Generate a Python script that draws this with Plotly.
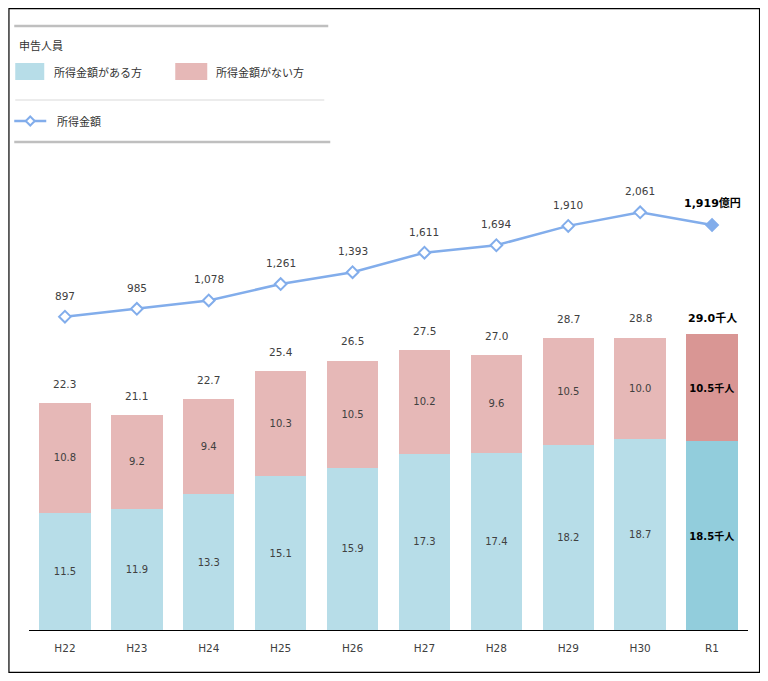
import plotly.graph_objects as go

categories = ["H22", "H23", "H24", "H25", "H26", "H27", "H28", "H29", "H30", "R1"]
with_income = [11.5, 11.9, 13.3, 15.1, 15.9, 17.3, 17.4, 18.2, 18.7, 18.5]
without_income = [10.8, 9.2, 9.4, 10.3, 10.5, 10.2, 9.6, 10.5, 10.0, 10.5]
totals = [22.3, 21.1, 22.7, 25.4, 26.5, 27.5, 27.0, 28.7, 28.8, 29.0]
income_amount = [897, 985, 1078, 1261, 1393, 1611, 1694, 1910, 2061, 1919]

# page has an 8px body margin on every side; keep the figure inside the window
OFF = 8
W, H = 768 - 2 * OFF, 681 - 2 * OFF
PW, PH = 719, 480
ML, MT = 28.75 - OFF, 150 - OFF
MR, MB = W - ML - PW, H - MT - PH

def px(x):
    return (x - OFF - ML) / PW

def py(y):
    return (H - MB - (y - OFF)) / PH

FONT = "DejaVu Sans, Noto Sans CJK JP, sans-serif"
JFONT = "Noto Sans CJK JP, sans-serif"
TXT = "#404040"
BLUE = "#b7dde8"
PINK = "#e6b8b7"
BLUE_HI = "#92cddc"
PINK_HI = "#d99694"
LINE = "#82adeb"

n = len(categories)
last = n - 1

blue_colors = [BLUE] * last + [BLUE_HI]
pink_colors = [PINK] * last + [PINK_HI]
blue_text = [f"{v:.1f}" for v in with_income[:last]] + [f"<b>{with_income[last]:.1f}千人</b>"]
pink_text = [f"{v:.1f}" for v in without_income[:last]] + [f"<b>{without_income[last]:.1f}千人</b>"]
text_colors = [TXT] * last + ["#000000"]

fig = go.Figure()
fig.add_trace(go.Bar(
    x=categories, y=with_income, name="所得金額がある方",
    marker=dict(color=blue_colors, line=dict(width=0)),
    text=blue_text, textposition="inside", insidetextanchor="middle",
    textfont=dict(family=FONT, size=[10] * last + [10.5], color=text_colors),
    textangle=0, yaxis="y", showlegend=False,
))
fig.add_trace(go.Bar(
    x=categories, y=without_income, name="所得金額がない方",
    marker=dict(color=pink_colors, line=dict(width=0)),
    text=pink_text, textposition="inside", insidetextanchor="middle",
    textfont=dict(family=FONT, size=[10] * last + [10.5], color=text_colors),
    textangle=0, yaxis="y", showlegend=False,
))
fig.add_trace(go.Scatter(
    x=categories, y=income_amount, name="所得金額", mode="lines+markers",
    line=dict(color=LINE, width=2.5),
    marker=dict(symbol="diamond", size=9,
                color=["white"] * last + [LINE],
                line=dict(color=LINE, width=2)),
    yaxis="y2", showlegend=False,
))

annotations = []
for i, (c, t) in enumerate(zip(categories, totals)):
    if i == last:
        annotations.append(dict(x=c, y=t, xref="x", yref="y", text=f"<b>{t:.1f}千人</b>",
                                showarrow=False, yshift=16, font=dict(family=FONT, size=11, color="#000")))
    else:
        annotations.append(dict(x=c, y=t, xref="x", yref="y", text=f"{t:.1f}",
                                showarrow=False, yshift=19, font=dict(family=FONT, size=10.5, color=TXT)))
for i, (c, v) in enumerate(zip(categories, income_amount)):
    if i == last:
        annotations.append(dict(x=c, y=v, xref="x", yref="y2", text=f"<b>{v:,}億円</b>",
                                showarrow=False, yshift=22, font=dict(family=FONT, size=11, color="#000")))
    else:
        annotations.append(dict(x=c, y=v, xref="x", yref="y2", text=f"{v:,}",
                                showarrow=False, yshift=21, font=dict(family=FONT, size=10.5, color=TXT)))

# legend texts
annotations += [
    dict(x=px(17), y=py(45), xref="paper", yref="paper", text="申告人員", showarrow=False,
         xanchor="left", yanchor="middle", font=dict(family=JFONT, size=11, color="#333")),
    dict(x=px(52), y=py(72), xref="paper", yref="paper", text="所得金額がある方", showarrow=False,
         xanchor="left", yanchor="middle", font=dict(family=JFONT, size=11, color="#333")),
    dict(x=px(214), y=py(72), xref="paper", yref="paper", text="所得金額がない方", showarrow=False,
         xanchor="left", yanchor="middle", font=dict(family=JFONT, size=11, color="#333")),
    dict(x=px(55), y=py(121), xref="paper", yref="paper", text="所得金額", showarrow=False,
         xanchor="left", yanchor="middle", font=dict(family=JFONT, size=11, color="#333")),
]

# outer frame limited to the figure area
fx0, fx1 = max(7, OFF + 0.7), min(760, OFF + W - 0.7)
fy0, fy1 = max(7, OFF + 0.7), min(674, OFF + H - 0.7)

shapes = [
    dict(type="rect", xref="paper", yref="paper", x0=px(fx0), x1=px(fx1), y0=py(fy1), y1=py(fy0),
         line=dict(color="#000", width=1.2), layer="below"),
    # legend separators
    dict(type="line", xref="paper", yref="paper", x0=px(14), x1=px(328), y0=py(26), y1=py(26),
         line=dict(color="#bfbfbf", width=2.5)),
    dict(type="line", xref="paper", yref="paper", x0=px(15), x1=px(324), y0=py(100), y1=py(100),
         line=dict(color="#d9d9d9", width=1.2)),
    dict(type="line", xref="paper", yref="paper", x0=px(14), x1=px(330), y0=py(142), y1=py(142),
         line=dict(color="#bfbfbf", width=2.5)),
    # legend swatches
    dict(type="rect", xref="paper", yref="paper", x0=px(15), x1=px(44), y0=py(80), y1=py(63),
         fillcolor=BLUE, line=dict(width=0)),
    dict(type="rect", xref="paper", yref="paper", x0=px(175), x1=px(207), y0=py(80), y1=py(63),
         fillcolor=PINK, line=dict(width=0)),
    dict(type="line", xref="paper", yref="paper", x0=px(14), x1=px(46), y0=py(121), y1=py(121),
         line=dict(color=LINE, width=2.5)),
    dict(type="path", xref="paper", yref="paper",
         path=f"M {px(30)},{py(116.5)} L {px(34.5)},{py(121)} L {px(30)},{py(125.5)} L {px(25.5)},{py(121)} Z",
         fillcolor="white", line=dict(color=LINE, width=2)),
]

fig.update_layout(
    width=W, height=H,
    margin=dict(l=ML, r=MR, t=MT, b=MB, pad=0),
    paper_bgcolor="white", plot_bgcolor="white",
    barmode="stack", bargap=0.284,
    showlegend=False,
    xaxis=dict(type="category", range=[-0.5, 9.5], showgrid=False, zeroline=False,
               showline=True, linecolor="#000", linewidth=1.3, ticks="",
               tickfont=dict(family=FONT, size=10.5, color=TXT), ticklabelstandoff=8),
    yaxis=dict(range=[0, 47.1], visible=False, showgrid=False, zeroline=False),
    yaxis2=dict(range=[-2600, 2757], overlaying="y", visible=False, showgrid=False, zeroline=False),
    annotations=annotations, shapes=shapes,
    font=dict(family=FONT),
)

fig.write_html("out.html")
